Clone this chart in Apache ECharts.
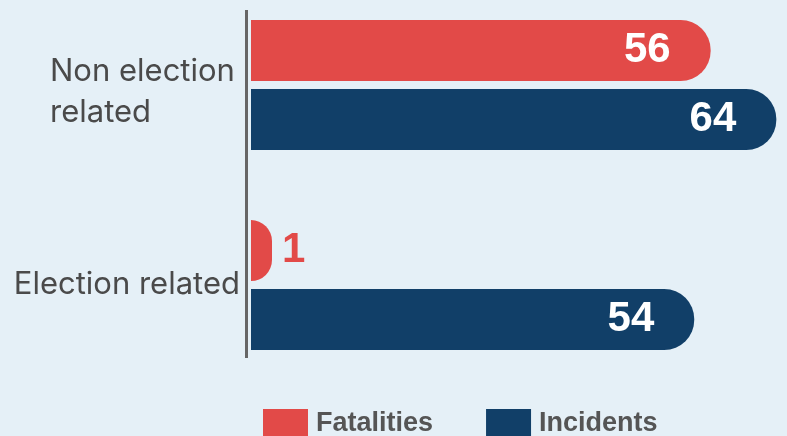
<!DOCTYPE html>
<html>
<head>
<meta charset="utf-8">
<script src="https://cdn.jsdelivr.net/npm/echarts@6/dist/echarts.min.js"></script>
<style>
  html, body { margin: 0; padding: 0; background: #e5f0f7; }
  #chart { width: 787px; height: 436px; }
</style>
</head>
<body>
<div id="chart"></div>
<script>
// Violence events by type
const categories = ['Non election related', 'Election related'];
const seriesNames = ['Fatalities', 'Incidents'];
const fatalities = [56, 1];
const incidents = [64, 54];

const RED = '#e24a48';
const BLUE = '#113f68';

const chart = echarts.init(document.getElementById('chart'));

// Short bars get their value written beside them instead of inside
function barData(values, color) {
  return values.map(v => v < 5
    ? { value: v, label: { position: 'right', distance: 10, color: color } }
    : v);
}

const valueLabel = {
  show: true,
  position: 'insideRight',
  distance: 40,
  color: '#ffffff',
  fontFamily: 'Liberation Sans, Arial, sans-serif',
  fontWeight: 'bold',
  fontSize: 42
};

const catFont = {
  color: '#4a4a4a',
  fontFamily: 'Inter, sans-serif',
  fontSize: 31,
  lineHeight: 41
};

chart.setOption({
  backgroundColor: '#e5f0f7',
  animation: false,
  grid: {
    left: 251, right: 0, top: -15, height: 400,
    containLabel: false,
    outerBoundsMode: 'none'
  },
  xAxis: {
    type: 'value',
    min: 0,
    max: 65.3,
    show: false
  },
  yAxis: {
    type: 'category',
    data: categories,
    inverse: true,
    axisLine: { show: false },
    axisTick: { show: false },
    axisLabel: Object.assign({
      margin: 11,
      // two-line label, lines flush left; a thin spacer line on top lowers the block a little
      formatter: v => v === 'Non election related'
        ? '{s| }\n{a|Non election}\n{a|related}'
        : v,
      rich: {
        s: { fontSize: 1, lineHeight: 14, width: 190 },
        a: Object.assign({ width: 190, align: 'left' }, catFont)
      }
    }, catFont)
  },
  legend: {
    data: seriesNames,
    left: 258,
    top: 404,
    icon: 'rect',
    itemWidth: 45,
    itemHeight: 30,
    itemGap: 53,
    textStyle: {
      color: '#555555',
      fontFamily: 'Liberation Sans, Arial, sans-serif',
      fontWeight: 'bold',
      fontSize: 27,
      padding: [0, 0, 0, 3]
    }
  },
  graphic: [{
    type: 'line',
    shape: { x1: 246.5, y1: 10, x2: 246.5, y2: 358 },
    style: { stroke: '#666666', lineWidth: 3 },
    silent: true
  }],
  series: [
    {
      name: seriesNames[0],
      type: 'bar',
      data: barData(fatalities, RED),
      barWidth: 61,
      barGap: '13%',
      barMinHeight: 21,
      itemStyle: { color: RED, borderRadius: [0, 30, 30, 0] },
      label: valueLabel
    },
    {
      name: seriesNames[1],
      type: 'bar',
      data: barData(incidents, BLUE),
      barWidth: 61,
      barGap: '13%',
      itemStyle: { color: BLUE, borderRadius: [0, 30, 30, 0] },
      label: valueLabel
    }
  ]
});
</script>
</body>
</html>
